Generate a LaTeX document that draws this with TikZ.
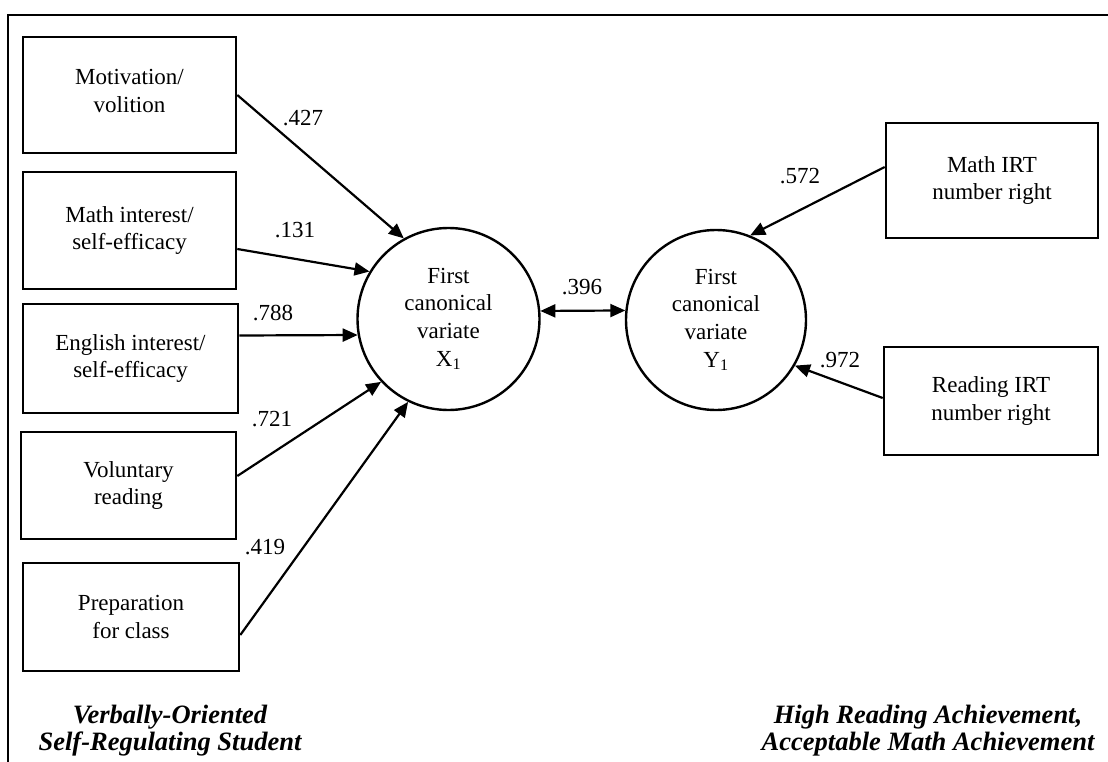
\documentclass[tikz,border=0pt]{standalone}
\usepackage{fontspec}
\setmainfont{Liberation Serif}
\usetikzlibrary{arrows.meta,calc}
\begin{document}
\begin{tikzpicture}[x=1pt,y=-1pt,
  every node/.style={font=\fontsize{23}{27.6}\selectfont, inner sep=0pt},
  varbox/.style={draw, line width=2.6pt, align=center},
  latent/.style={draw, circle, line width=2.4pt, align=center, minimum size=182pt},
  coef/.style={},
  caption/.style={align=center, font=\fontsize{26.5}{27}\selectfont\bfseries\itshape},
  path/.style={line width=2.2pt, -{Triangle[length=15pt,width=13pt]}},
  bipath/.style={line width=2.2pt, {Triangle[length=15pt,width=13pt]}-{Triangle[length=15pt,width=13pt]}},
  frame/.style={line width=2.8pt}]
\useasboundingbox (0,0) rectangle (1108,762);
\clip (0,0) rectangle (1108,762);
\fill[white] (0,0) rectangle (1108,762);
\draw[frame] (1130,15) -- (8,15) -- (8,790);

\node[varbox, minimum width=213pt, minimum height=116pt, text depth=8pt] (b1) at (129.5,95) {Motivation/\\volition};
\node[varbox, minimum width=213pt, minimum height=117pt] (b2) at (129.5,230.5) {Math interest/\\self-efficacy};
\node[varbox, minimum width=215pt, minimum height=109pt] (b3) at (130.5,358.5) {English interest/\\self-efficacy};
\node[varbox, minimum width=215pt, minimum height=107pt] (b4) at (128.5,485.5) {Voluntary\\reading};
\node[varbox, minimum width=216pt, minimum height=108pt] (b5) at (131,617) {Preparation\\for class};
\node[varbox, minimum width=212pt, minimum height=115pt] (m) at (992,180.5) {Math IRT\\number right};
\node[varbox, minimum width=214pt, minimum height=108pt] (r) at (991,401) {Reading IRT\\number right};

\node[latent] (x1) at (448.5,319) {First\\canonical\\variate\\X\textsubscript{1}};
\node[latent, minimum size=180pt] (y1) at (716,320) {First\\canonical\\variate\\Y\textsubscript{1}};

\draw[path] (b1.east) -- (x1.119.6);
\draw[path] ($(b2.east)+(0,18.5)$) -- (x1.149.2);
\draw[path] ($(b3.east)+(0,-23)$) -- (x1.190.3);
\draw[path] ($(b4.east)+(0,-9.5)$) -- (x1.223.5);
\draw[path] ($(b5.east)+(0,18)$) -- (x1.244);
\draw[bipath] (x1.5) -- (y1.174.3);
\draw[path] ($(m.west)+(0,-13.5)$) -- (y1.68);
\draw[path] ($(r.west)+(0,-3)$) -- (y1.-30.3);

\node[coef] (c1) at (303,118) {.427};
\node[coef] (c2) at (295,230) {.131};
\node[coef] (c3) at (273,313) {.788};
\node[coef] (c4) at (272,419) {.721};
\node[coef] (c5) at (265,547) {.419};
\node[coef] (c6) at (582,287) {.396};
\node[coef] (c7) at (800,176) {.572};
\node[coef] (c8) at (840,360) {.972};

\node[caption] (capl) at (170,730.5) {Verbally-Oriented\\Self-Regulating Student};
\node[caption] (capr) at (928,730.5) {High Reading Achievement,\\Acceptable Math Achievement};
\end{tikzpicture}
\end{document}
